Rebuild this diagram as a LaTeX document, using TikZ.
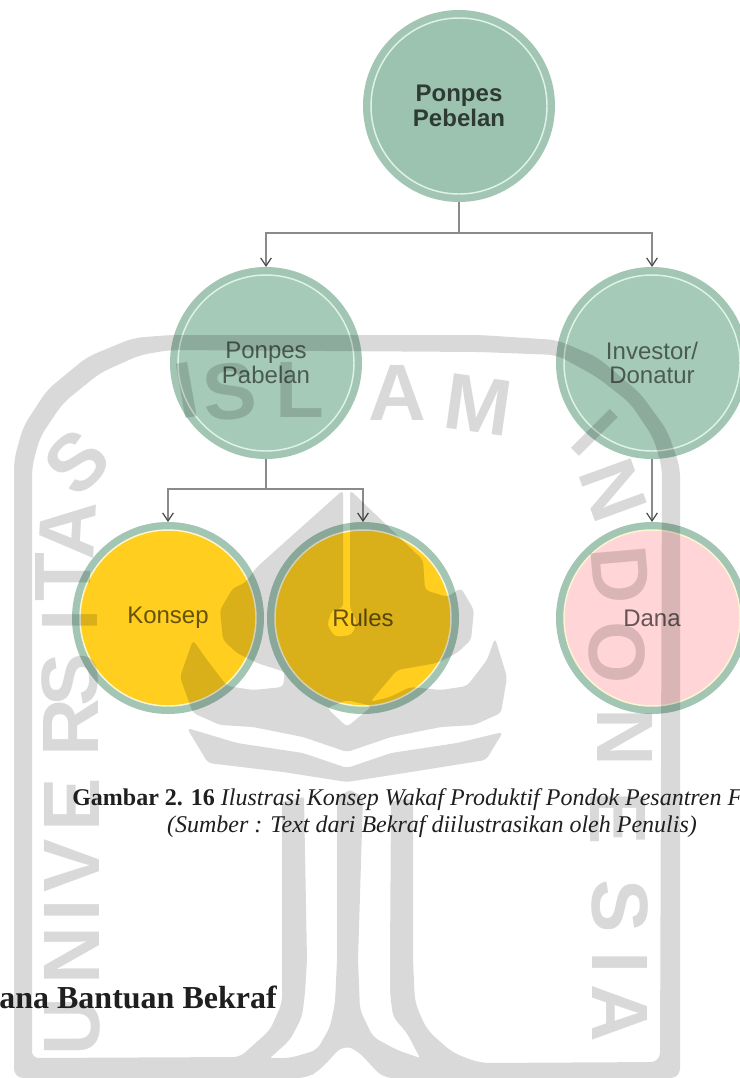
\documentclass[tikz,border=0pt]{standalone}
\usepackage{fontspec}
\setmainfont{Liberation Serif}
\newfontfamily\labelfont{Liberation Sans}
\usetikzlibrary{arrows.meta}
\definecolor{ringgreen}{HTML}{A3C6B4}
\definecolor{topgreen}{HTML}{9CC3AF}
\definecolor{midgreen}{HTML}{A6CAB8}
\definecolor{mintline}{HTML}{DDF3E8}
\definecolor{paleline}{HTML}{FBF6D2}
\definecolor{konsepyellow}{HTML}{FFCE1F}
\definecolor{danapink}{HTML}{FFD5D7}
\definecolor{linkgray}{HTML}{8A8A8A}
\tikzset{
  ballnode/.style 2 args={circle, minimum size=132pt, inner sep=0pt, outer sep=6pt, align=center,
    font=\labelfont\fontsize{18}{18.5}\selectfont, fill=#1, draw=#2, line width=1.1pt,
    preaction={draw=ringgreen, line width=12pt}},
  linkline/.style={draw=linkgray, line width=0.9pt},
  linkarrow/.style={linkline, -{Straight Barb[length=6pt,width=8pt,color=black!70]}},
  markfill/.style={fill=black, fill opacity=0.15, even odd rule, rounded corners=3pt},
  markletter/.style={text=black, text opacity=0.15, inner sep=0pt, font=\labelfont\bfseries\fontsize{60}{60}\selectfont},
  captiontext/.style={inner sep=0pt, text=black!88, font=\fontsize{18}{22}\selectfont},
}
\begin{document}
\begin{tikzpicture}[x=0.75pt,y=-0.75pt]
\useasboundingbox (0,0) rectangle (739,1078);
% circles
\node[ballnode={topgreen}{mintline}, text=black!70!topgreen, font=\labelfont\bfseries\fontsize{18}{18.5}\selectfont] (ponpesTop) at (459,106) {Ponpes\\Pebelan};
\node[ballnode={midgreen}{mintline}, text=black!55!midgreen] (ponpesPabelan) at (266,363) {Ponpes\\Pabelan};
\node[ballnode={midgreen}{mintline}, text=black!55!midgreen] (investorDonatur) at (652,363) {Investor/\\Donatur};
\node[ballnode={konsepyellow}{paleline}, text=black!60!konsepyellow] (konsep) at (168,618) {Konsep};
\node[ballnode={konsepyellow}{paleline}, text=black!60!konsepyellow] (rules) at (363,618) {Rules};
\node[ballnode={danapink}{paleline}, text=black!60!danapink] (dana) at (652,618) {Dana};
% connectors
\coordinate (splitTop) at (459,233);
\coordinate (splitMid) at (266,489);
\draw[linkline] (ponpesTop.south) -- (splitTop);
\draw[linkarrow] (splitTop) -| (ponpesPabelan.north);
\draw[linkarrow] (splitTop) -| (investorDonatur.north);
\draw[linkline] (ponpesPabelan.south) -- (splitMid);
\draw[linkarrow] (splitMid) -| (konsep.north);
\draw[linkarrow] (splitMid) -| (rules.north);
\draw[linkarrow] (investorDonatur.south) -- (dana.north);
% watermark frame and stems
\fill[markfill, rounded corners=7pt] (14,1078) -- (14,460) -- (23,427) -- (47,390) -- (87,357) -- (133,338) -- (170,335) -- (480,335) -- (557,340) -- (597,357) -- (640,393) -- (667,430) -- (680,467) -- (680,1078) -- (383,1078) -- (357,1050) -- (343,1045) -- (320,1070) -- (307,1078) -- cycle
  (32,1058) -- (32,467) -- (40,437) -- (63,403) -- (100,373) -- (140,355) -- (170,350) -- (480,352) -- (557,355) -- (597,377) -- (630,403) -- (653,437) -- (662,467) -- (660,1062) -- (480,1063) -- (453,1053) -- (427,1030) -- (415,1003) -- (413,960) -- (413,797) [rounded corners=1pt] -- (391,802) -- (390,960) [rounded corners=5pt] -- (390,993) -- (393,1017) -- (407,1033) [rounded corners=1pt] -- (420,1058) [rounded corners=5pt] -- (397,1050) -- (373,1037) -- (360,1010) -- (358,960) [rounded corners=1pt] -- (363,797) -- (350,790) -- (337,797) -- (337,960) [rounded corners=5pt] -- (335,1003) -- (330,1027) -- (317,1050) -- (290,1058) [rounded corners=1pt] -- (270,1058) [rounded corners=5pt] -- (290,1040) -- (302,1017) -- (305,993) -- (307,960) [rounded corners=1pt] -- (304,797) -- (282,802) [rounded corners=5pt] -- (282,1003) -- (270,1030) -- (240,1057) -- cycle;
% watermark leaf
\fill[markfill] (343,490) -- (257,567) -- (245,583) -- (233,588) -- (220,610) -- (223,640) -- (237,653) -- (257,663) -- (285,672) -- (283,687) -- (253,690) -- (227,686) -- (207,660) -- (193,640) -- (180,677) -- (193,713) -- (220,725) -- (253,727) -- (303,737) -- (347,752) -- (391,737) -- (441,727) -- (474,725) -- (501,713) -- (507,677) -- (495,638) -- (487,660) -- (467,686) -- (441,690) -- (410,687) -- (390,697) -- (370,702) -- (397,670) -- (437,663) -- (457,653) -- (471,640) -- (474,610) -- (461,588) -- (447,597) -- (425,590) -- (423,560) -- (350,490) -- (350,608) -- (357,622) -- (352,635) -- (335,637) -- (327,625) -- (332,610) -- (343,608) -- cycle
  (327,708) -- (347,727) -- (372,706) -- (347,700) -- cycle;
\fill[markfill] (187,728) -- (237,743) -- (303,753) -- (347,768) -- (391,753) -- (457,743) -- (503,732) -- (486,760) -- (411,772) -- (347,782) -- (283,772) -- (208,763) -- cycle;
% watermark letters
\node[markletter, rotate=10] (markI) at (187,390) {I};
\node[markletter, rotate=5] (markS) at (230,392) {S};
\node[markletter] (markL) at (300,390) {L};
\node[markletter] (markA) at (397,393) {A};
\node[markletter, rotate=-8] (markM) at (478,405) {M};
\node[markletter, rotate=90] (markUa) at (72,1027) {U};
\node[markletter, rotate=90] (markUb) at (72,956) {N};
\node[markletter, rotate=90] (markUc) at (72,910) {I};
\node[markletter, rotate=90] (markUd) at (72,866) {V};
\node[markletter, rotate=90] (markUe) at (72,805) {E};
\node[markletter, rotate=90] (markUf) at (71,728) {R};
\node[markletter, rotate=90] (markUg) at (70,680) {S};
\node[markletter, rotate=90] (markUh) at (70,620) {I};
\node[markletter, rotate=90] (markUi) at (63,577) {T};
\node[markletter, rotate=87] (markUj) at (68,530) {A};
\node[markletter, rotate=45] (markUk) at (77,462) {S};
\node[markletter, rotate=-45] (markNa) at (595,433) {I};
\node[markletter, rotate=-70] (markNb) at (613,490) {N};
\node[markletter, rotate=-85] (markNc) at (620,575) {D};
\node[markletter, rotate=-90] (markNd) at (617,653) {O};
\node[markletter, rotate=-90] (markNe) at (625,737) {N};
\node[markletter, rotate=-90] (markNf) at (618,818) {E};
\node[markletter, rotate=-90] (markNg) at (620,906) {S};
\node[markletter, rotate=-90] (markNh) at (620,963) {I};
\node[markletter, rotate=-90] (markNi) at (620,1013) {A};
% captions
\node[captiontext, anchor=base west] (captionOne) at (72,805) {\textbf{Gambar 2. 16} \textit{Ilustrasi Konsep Wakaf Produktif Pondok Pesantren F}};
\node[captiontext, anchor=base] (captionTwo) at (432,832) {\textit{(Sumber : Text dari Bekraf diilustrasikan oleh Penulis)}};
\node[captiontext, anchor=base east, font=\bfseries\fontsize{24}{28}\selectfont] (headingBantuan) at (277,1008) {ana Bantuan Bekraf};
\end{tikzpicture}
\end{document}
